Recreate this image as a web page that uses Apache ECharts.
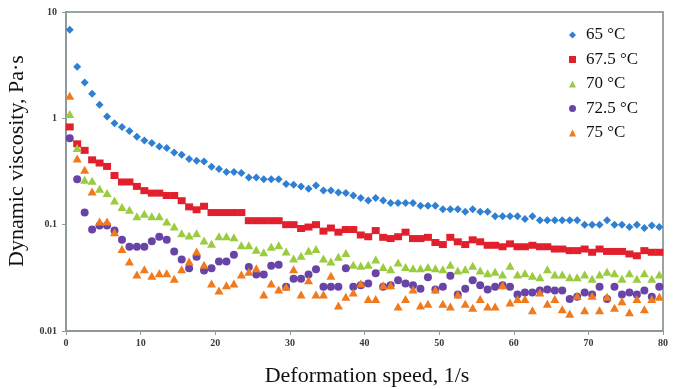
<!DOCTYPE html>
<html>
<head>
<meta charset="utf-8">
<script src="https://cdn.jsdelivr.net/npm/echarts@6/dist/echarts.min.js"></script>
<style>
  html, body { margin: 0; padding: 0; background: #ffffff; }
  #chart { width: 679px; height: 389px; }
</style>
</head>
<body>
<div id="chart"></div>
<script>
// Shear rate (deformation speed), 1/s
const speed = [
  0.5, 1.5, 2.5, 3.5, 4.5, 5.5, 6.5, 7.5, 8.5, 9.5,
  10.5, 11.5, 12.5, 13.5, 14.5, 15.5, 16.5, 17.5, 18.5, 19.5,
  20.5, 21.5, 22.5, 23.5, 24.5, 25.5, 26.5, 27.5, 28.5, 29.5,
  30.5, 31.5, 32.5, 33.5, 34.5, 35.5, 36.5, 37.5, 38.5, 39.5,
  40.5, 41.5, 42.5, 43.5, 44.5, 45.5, 46.5, 47.5, 48.5, 49.5,
  50.5, 51.5, 52.5, 53.5, 54.5, 55.5, 56.5, 57.5, 58.5, 59.5,
  60.5, 61.5, 62.5, 63.5, 64.5, 65.5, 66.5, 67.5, 68.5, 69.5,
  70.5, 71.5, 72.5, 73.5, 74.5, 75.5, 76.5, 77.5, 78.5, 79.5
];

// Dynamic viscosity, Pa·s, one array per temperature
const visc65 = [
  6.8, 3.06, 2.17, 1.70, 1.34, 1.04, 0.90, 0.83, 0.76, 0.67,
  0.62, 0.585, 0.543, 0.525, 0.477, 0.454, 0.414, 0.40, 0.393, 0.35,
  0.333, 0.312, 0.312, 0.306, 0.278, 0.278, 0.268, 0.268, 0.268, 0.241,
  0.237, 0.229, 0.218, 0.234, 0.209, 0.209, 0.201, 0.198, 0.188, 0.178,
  0.169, 0.178, 0.169, 0.16, 0.16, 0.16, 0.16, 0.151, 0.151, 0.151,
  0.14, 0.14, 0.14, 0.132, 0.14, 0.132, 0.132, 0.12, 0.12, 0.12,
  0.12, 0.113, 0.12, 0.11, 0.11, 0.11, 0.11, 0.11, 0.11, 0.1,
  0.1, 0.1, 0.11, 0.1, 0.1, 0.095, 0.1, 0.093, 0.098, 0.095
];
const visc675 = [
  0.83, 0.576, 0.50, 0.407, 0.38, 0.353, 0.29, 0.252, 0.252, 0.229,
  0.209, 0.198, 0.198, 0.188, 0.188, 0.168, 0.147, 0.138, 0.149, 0.13,
  0.13, 0.13, 0.13, 0.13, 0.109, 0.109, 0.109, 0.109, 0.109, 0.1,
  0.1, 0.092, 0.095, 0.1, 0.087, 0.093, 0.085, 0.09, 0.09, 0.08,
  0.077, 0.088, 0.076, 0.074, 0.077, 0.085, 0.074, 0.074, 0.076, 0.068,
  0.065, 0.076, 0.069, 0.065, 0.072, 0.069, 0.064, 0.064, 0.062, 0.066,
  0.062, 0.062, 0.064, 0.062, 0.062, 0.059, 0.059, 0.057, 0.057, 0.059,
  0.055, 0.059, 0.056, 0.056, 0.056, 0.053, 0.051, 0.057, 0.055, 0.055
];
const visc70 = [
  1.10, 0.525, 0.265, 0.259, 0.218, 0.198, 0.169, 0.147, 0.138, 0.12,
  0.127, 0.12, 0.12, 0.107, 0.096, 0.083, 0.079, 0.083, 0.071, 0.066,
  0.078, 0.078, 0.076, 0.064, 0.064, 0.058, 0.055, 0.062, 0.064, 0.056,
  0.048, 0.051, 0.057, 0.059, 0.048, 0.045, 0.05, 0.054, 0.042, 0.041,
  0.042, 0.047, 0.040, 0.038, 0.044, 0.040, 0.039, 0.039, 0.040, 0.039,
  0.038, 0.042, 0.037, 0.038, 0.041, 0.037, 0.035, 0.036, 0.034, 0.041,
  0.034, 0.035, 0.033, 0.032, 0.038, 0.034, 0.034, 0.032, 0.032, 0.034,
  0.031, 0.034, 0.036, 0.035, 0.031, 0.035, 0.031, 0.035, 0.031, 0.034
];
const visc725 = [
  0.65, 0.268, 0.13, 0.09, 0.098, 0.098, 0.088, 0.072, 0.062, 0.062,
  0.062, 0.070, 0.077, 0.072, 0.056, 0.047, 0.039, 0.05, 0.037, 0.039,
  0.045, 0.045, 0.052, null, 0.04, 0.034, 0.034, 0.041, 0.042, 0.026,
  0.031, 0.031, 0.034, 0.038, 0.026, 0.026, 0.026, 0.039, 0.026, 0.027,
  0.028, 0.035, 0.026, 0.027, 0.030, 0.028, 0.027, 0.025, 0.032, 0.0245,
  0.026, 0.033, 0.022, 0.025, 0.03, 0.027, 0.0245, 0.026, 0.027, 0.026,
  0.022, 0.023, 0.023, 0.024, 0.0245, 0.024, 0.024, 0.020, 0.021, 0.023,
  0.022, 0.026, 0.020, 0.026, 0.022, 0.023, 0.022, 0.024, 0.021, 0.026
];
const visc75 = [
  1.63, 0.42, 0.328, 0.205, 0.107, 0.107, 0.085, 0.059, 0.045, 0.034,
  0.038, 0.033, 0.035, 0.035, 0.031, 0.038, 0.045, 0.056, 0.042, 0.028,
  0.024, 0.027, 0.028, 0.034, 0.036, 0.039, 0.022, 0.028, 0.0245, 0.026,
  0.038, 0.022, 0.030, 0.022, 0.022, 0.033, 0.0174, 0.021, 0.023, 0.028,
  0.020, 0.020, 0.027, 0.027, 0.017, 0.020, 0.0245, 0.0174, 0.018, 0.0245,
  0.018, 0.017, 0.022, 0.018, 0.0165, 0.020, 0.017, 0.017, 0.027, 0.0185,
  0.020, 0.020, 0.0157, 0.023, 0.018, 0.020, 0.016, 0.0145, 0.0215, 0.0157,
  0.0215, 0.0157, 0.021, 0.0165, 0.019, 0.015, 0.020, 0.016, 0.020, 0.021
];

const seriesNames = ['65 °C', '67.5 °C', '70 °C', '72.5 °C', '75 °C'];
const seriesValues = [visc65, visc675, visc70, visc725, visc75];
const yTicks = [0.01, 0.1, 1, 10];

const markerStyles = [
  { symbol: 'diamond',  size: [8, 8], color: '#2f7fd3' },
  { symbol: 'rect',     size: [8, 7], color: '#e2202d' },
  { symbol: 'triangle', size: [9, 8], color: '#9bcb3f' },
  { symbol: 'circle',   size: [8, 8], color: '#6844a6' },
  { symbol: 'triangle', size: [9, 8], color: '#f07a1c' }
];

const AXIS_GREY = '#8f999c';
const SERIF = '"Liberation Serif", "Times New Roman", serif';

const chart = echarts.init(document.getElementById('chart'), null, { renderer: 'canvas' });

const series = seriesNames.map((name, s) => ({
  name: name,
  type: 'scatter',
  symbol: markerStyles[s].symbol,
  symbolSize: markerStyles[s].size,
  itemStyle: { color: markerStyles[s].color, opacity: 1 },
  emphasis: { disabled: true },
  data: speed
    .map((x, i) => (seriesValues[s][i] == null ? null : [x, seriesValues[s][i]]))
    .filter(p => p !== null)
}));

chart.setOption({
  animation: false,
  backgroundColor: '#ffffff',
  grid: {
    left: 66, right: 16, top: 12, bottom: 58,
    show: true,
    borderColor: '#9aa3a6',
    borderWidth: 2,
    backgroundColor: 'transparent'
  },
  legend: {
    orient: 'vertical',
    left: 564,
    top: 21,
    itemWidth: 7,
    itemHeight: 7,
    itemGap: 6.5,
    data: seriesNames,
    textStyle: {
      fontFamily: SERIF,
      fontSize: 17,
      lineHeight: 18,
      color: '#111111',
      padding: [0, 0, 0, 5]
    }
  },
  xAxis: {
    type: 'value',
    min: 0,
    max: 80,
    interval: 10,
    axisLine: { show: true, lineStyle: { color: AXIS_GREY, width: 2 } },
    axisTick: { show: true, inside: false, length: 4, lineStyle: { color: AXIS_GREY, width: 1 } },
    axisLabel: {
      fontFamily: SERIF, fontWeight: 'bold', fontSize: 10, color: '#3a3a3a', margin: 7
    },
    splitLine: { show: false }
  },
  yAxis: {
    type: 'log',
    logBase: 10,
    min: yTicks[0],
    max: yTicks[yTicks.length - 1],
    axisLine: { show: true, lineStyle: { color: AXIS_GREY, width: 2 } },
    axisTick: { show: true, inside: false, length: 4, lineStyle: { color: AXIS_GREY, width: 1 } },
    axisLabel: {
      fontFamily: SERIF, fontWeight: 'bold', fontSize: 10, color: '#3a3a3a', margin: 9,
      formatter: v => String(yTicks.find(t => Math.abs(Math.log10(t) - Math.log10(v)) < 1e-6) ?? v)
    },
    splitLine: { show: false },
    minorTick: { show: false }
  },
  graphic: [
    {
      type: 'text',
      x: 17, y: 161,
      rotation: Math.PI / 2,
      style: {
        text: 'Dynamic viscosity, Pa·s',
        font: '22px ' + SERIF,
        fill: '#111111',
        textAlign: 'center', textVerticalAlign: 'middle',
        align: 'center', verticalAlign: 'middle'
      }
    },
    {
      type: 'text',
      x: 367, y: 376,
      style: {
        text: 'Deformation speed, 1/s',
        font: '22px ' + SERIF,
        fill: '#111111',
        textAlign: 'center', textVerticalAlign: 'middle',
        align: 'center', verticalAlign: 'middle'
      }
    }
  ],
  series: series
});
</script>
</body>
</html>
